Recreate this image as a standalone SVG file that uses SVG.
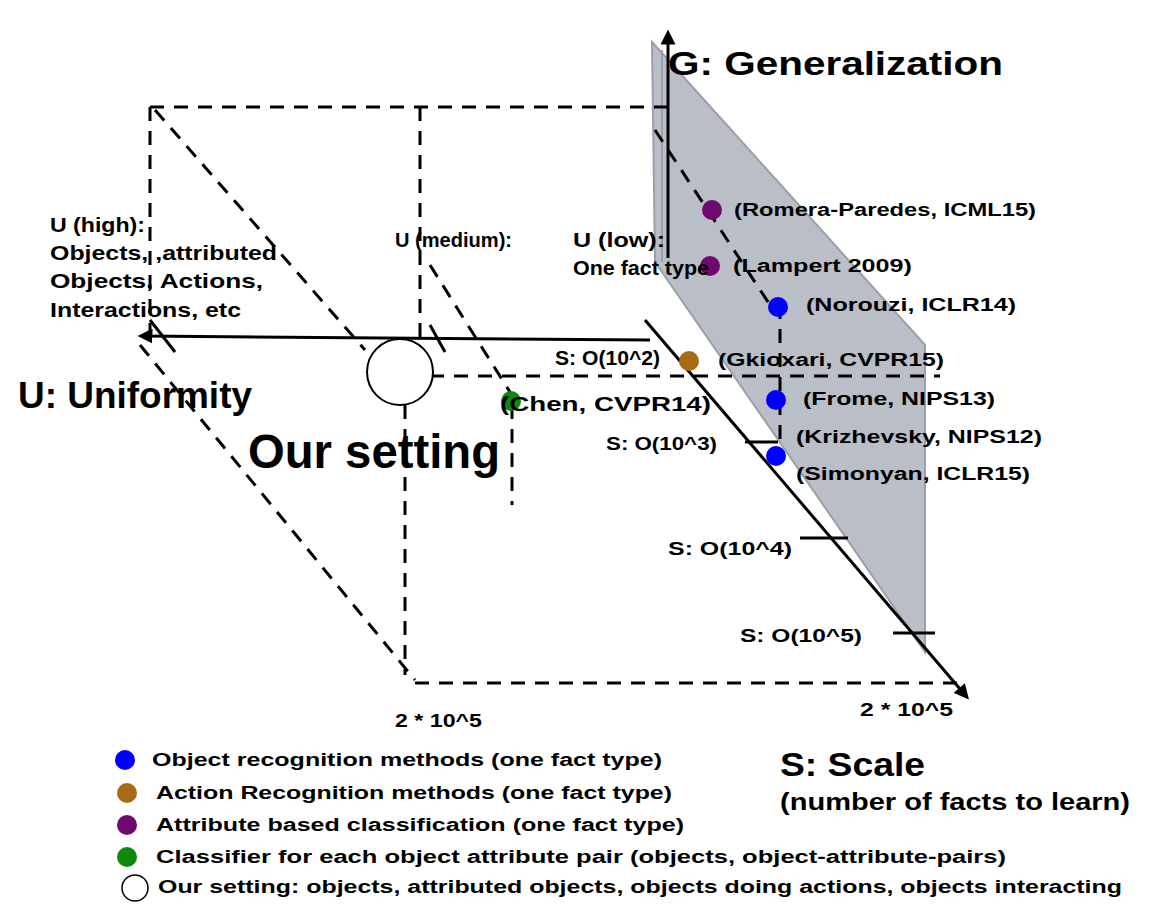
<svg xmlns="http://www.w3.org/2000/svg" width="1167" height="909" viewBox="0 0 1167 909">
<style>
text{font-family:"Liberation Sans",Arial,sans-serif;font-weight:bold;fill:#000}
.s{font-size:18px}.u{font-size:21px}.t{font-size:33px}
.d{stroke:#000;stroke-width:3;stroke-dasharray:14 10;fill:none}
.a{stroke:#000;stroke-width:3;fill:none}
</style>
<defs><marker id="ar" markerWidth="5" markerHeight="5" refX="3.5" refY="2.5" orient="auto" markerUnits="strokeWidth"><path d="M0,0L5,2.5L0,5z" fill="#000"/></marker></defs>
<rect width="1167" height="909" fill="#fff"/>
<g id="plane"><polygon points="652,42 925,345 925,652 655,262" fill="#b9bec7" stroke="#9aa0aa" stroke-width="2"/><path d="M662,50V262" stroke="#9aa0aa" stroke-width="2"/></g>
<g id="connectors">
<path class="d" d="M150,107H668M150,107V340M155,110L365,350M140,345L415,680M415,683H960M420,107V345M405,405V675M430,265L515,400M430,376H940M512,405V505M655,130L770,305M780,305V460"/>
<path class="a" d="M668,258V34" marker-end="url(#ar)"/>
<path class="a" d="M650,340L142,336" marker-end="url(#ar)"/>
<path class="a" d="M645,320L966,696" marker-end="url(#ar)"/>
<path class="a" d="M150,320L175,352M430,325L445,352M745,442H778M800,538H848M893,633H935"/>
</g>
<g id="points">
<circle cx="712" cy="210" r="10" fill="#6e0a6e"/>
<circle cx="710" cy="266" r="10" fill="#6e0a6e"/>
<circle cx="778" cy="307" r="10" fill="#0000ff"/>
<circle cx="689" cy="361" r="10" fill="#a86a12"/>
<circle cx="776" cy="400" r="10" fill="#0000ff"/>
<circle cx="776" cy="456" r="10" fill="#0000ff"/>
<circle cx="511" cy="401" r="10" fill="#0c8a0c"/>
<circle cx="400" cy="372" r="33" fill="#fff" stroke="#000" stroke-width="2"/>
</g>
<g id="labels">
<text class="t" x="668" y="75" textLength="335" lengthAdjust="spacingAndGlyphs">G: Generalization</text>
<text x="18" y="408" font-size="36" textLength="234" lengthAdjust="spacingAndGlyphs">U: Uniformity</text>
<text x="248" y="468" font-size="48" textLength="252" lengthAdjust="spacingAndGlyphs">Our setting</text>
<text class="u" x="50" y="232" textLength="95" lengthAdjust="spacingAndGlyphs">U (high):</text>
<text class="u" x="50" y="260" textLength="227" lengthAdjust="spacingAndGlyphs">Objects, ,attributed</text>
<text class="u" x="50" y="288" textLength="213" lengthAdjust="spacingAndGlyphs">Objects, Actions,</text>
<text class="u" x="50" y="317" textLength="191" lengthAdjust="spacingAndGlyphs">Interactions, etc</text>
<text class="u" x="395" y="247" textLength="117" lengthAdjust="spacingAndGlyphs">U (medium):</text>
<text class="u" x="573" y="247" textLength="92" lengthAdjust="spacingAndGlyphs">U (low):</text>
<text class="u" x="573" y="275" textLength="136" lengthAdjust="spacingAndGlyphs">One fact type</text>
<text class="s" x="734" y="216" textLength="302" lengthAdjust="spacingAndGlyphs">(Romera-Paredes, ICML15)</text>
<text class="s" x="733" y="272" textLength="179" lengthAdjust="spacingAndGlyphs">(Lampert 2009)</text>
<text class="s" x="806" y="311" textLength="210" lengthAdjust="spacingAndGlyphs">(Norouzi, ICLR14)</text>
<text class="s" x="718" y="366" textLength="226" lengthAdjust="spacingAndGlyphs">(Gkioxari, CVPR15)</text>
<text class="s" x="803" y="405" textLength="192" lengthAdjust="spacingAndGlyphs">(Frome, NIPS13)</text>
<text class="s" x="796" y="443" textLength="246" lengthAdjust="spacingAndGlyphs">(Krizhevsky, NIPS12)</text>
<text class="s" x="796" y="480" textLength="234" lengthAdjust="spacingAndGlyphs">(Simonyan, ICLR15)</text>
<text class="u" x="500" y="411" textLength="211" lengthAdjust="spacingAndGlyphs">(Chen, CVPR14)</text>
<text class="u" x="555" y="365" textLength="105" lengthAdjust="spacingAndGlyphs">S: O(10^2)</text>
<text class="s" x="606" y="450" textLength="111" lengthAdjust="spacingAndGlyphs">S: O(10^3)</text>
<text class="s" x="668" y="555" textLength="124" lengthAdjust="spacingAndGlyphs">S: O(10^4)</text>
<text class="s" x="740" y="642" textLength="122" lengthAdjust="spacingAndGlyphs">S: O(10^5)</text>
<text class="s" x="395" y="727" textLength="87" lengthAdjust="spacingAndGlyphs">2 * 10^5</text>
<text class="s" x="860" y="716" textLength="93" lengthAdjust="spacingAndGlyphs">2 * 10^5</text>
<text class="t" x="780" y="776" textLength="145" lengthAdjust="spacingAndGlyphs">S: Scale</text>
<text x="780" y="810" font-size="24" textLength="350" lengthAdjust="spacingAndGlyphs">(number of facts to learn)</text>
</g>
<g id="legend">
<circle cx="125" cy="760" r="10" fill="#0000ff"/><text class="s" x="152" y="766" textLength="510" lengthAdjust="spacingAndGlyphs">Object recognition methods (one fact type)</text>
<circle cx="127" cy="793" r="10" fill="#a86a12"/><text class="s" x="156" y="799" textLength="516" lengthAdjust="spacingAndGlyphs">Action Recognition methods (one fact type)</text>
<circle cx="127" cy="825" r="10" fill="#6e0a6e"/><text class="s" x="156" y="831" textLength="528" lengthAdjust="spacingAndGlyphs">Attribute based classification (one fact type)</text>
<circle cx="127" cy="857" r="10" fill="#0c8a0c"/><text class="s" x="156" y="863" textLength="850" lengthAdjust="spacingAndGlyphs">Classifier for each object attribute pair (objects, object-attribute-pairs)</text>
<circle cx="135" cy="888" r="13" fill="#fff" stroke="#000" stroke-width="1.5"/><text class="s" x="158" y="893" textLength="964" lengthAdjust="spacingAndGlyphs">Our setting: objects, attributed objects, objects doing actions, objects interacting</text>
</g>
</svg>
